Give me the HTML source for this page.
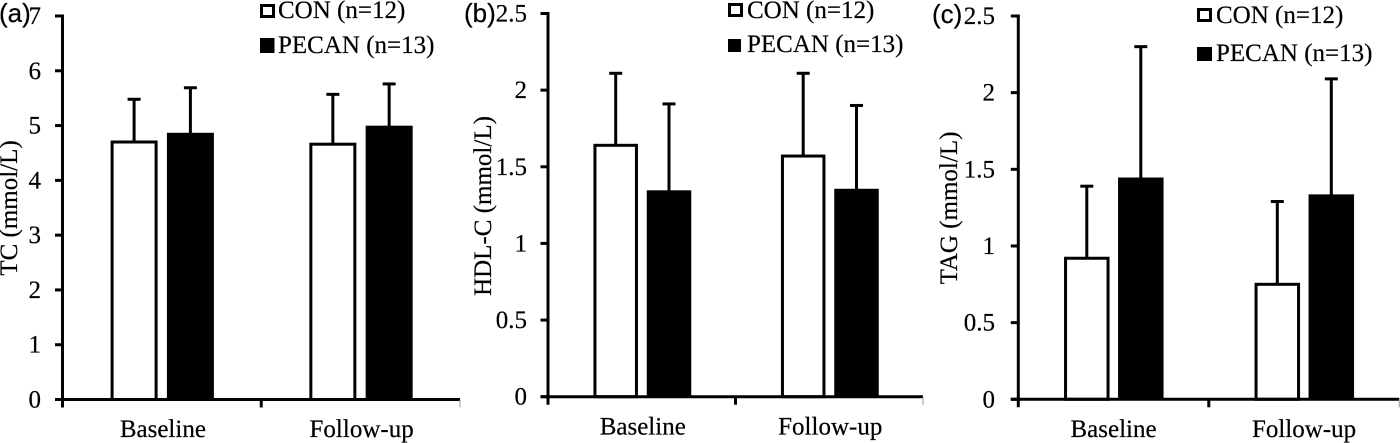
<!DOCTYPE html>
<html lang="en">
<head>
<meta charset="utf-8">
<title>TC, HDL-C and TAG at baseline and follow-up</title>
<style>
html,body{margin:0;padding:0;background:#fff;width:1400px;height:443px;overflow:hidden}
svg{display:block;filter:blur(.35px)}
text{font-family:"Liberation Serif",serif;font-size:25px;fill:#000;stroke:#000;stroke-width:.2px}
.panel-tag{font-family:"Liberation Sans",sans-serif;font-size:26px}
.tick{text-anchor:end}
.cat{text-anchor:middle}
.ytitle{text-anchor:middle}
</style>
</head>
<body>
<svg id="figure" width="1400" height="443" viewBox="0 0 1400 443" xmlns="http://www.w3.org/2000/svg">
  <rect width="1400" height="443" fill="#fff"/>

  <g id="panel-a">
    <text class="panel-tag" x="-1" y="22">(a)</text>
    <text class="ytitle" transform="translate(17 208) rotate(-90)">TC (mmol/L)</text>
    <rect x="261.5" y="5.5" width="12" height="11" fill="#fff" stroke="#000" stroke-width="3"/>
    <text x="278" y="18">CON (n=12)</text>
    <rect x="260" y="38" width="14.5" height="15" fill="#000"/>
    <text x="278" y="53">PECAN (n=13)</text>
  </g>

  <g id="panel-b">
    <text class="panel-tag" x="464" y="22">(b)</text>
    <text class="ytitle" transform="translate(491 206) rotate(-90)">HDL-C (mmol/L)</text>
    <rect x="729.5" y="4.5" width="12" height="11" fill="#fff" stroke="#000" stroke-width="3"/>
    <text x="747" y="18">CON (n=12)</text>
    <rect x="728" y="39" width="13" height="13" fill="#000"/>
    <text x="747" y="52">PECAN (n=13)</text>
  </g>

  <g id="panel-c">
    <text class="panel-tag" x="932" y="23">(c)</text>
    <text class="ytitle" transform="translate(957 208) rotate(-90)">TAG (mmol/L)</text>
    <rect x="1198.5" y="9.5" width="12" height="11" fill="#fff" stroke="#000" stroke-width="3"/>
    <text x="1216" y="23">CON (n=12)</text>
    <rect x="1197" y="47" width="15" height="14" fill="#000"/>
    <text x="1216" y="61">PECAN (n=13)</text>
  </g>
</svg>

<script>
// Shared categories
const categories = ['Baseline', 'Follow-up'];

// Panel (a) TC
const tcTickLabels = ['0', '1', '2', '3', '4', '5', '6', '7'];
const tcConMeans = [4.70, 4.66];
const tcPecanMeans = [4.85, 4.98];
const tcConUpper = [5.48, 5.57];
const tcPecanUpper = [5.69, 5.76];

// Panel (b) HDL-C
const hdlTickLabels = ['0', '0.5', '1', '1.5', '2', '2.5'];
const hdlConMeans = [1.64, 1.57];
const hdlPecanMeans = [1.34, 1.35];
const hdlConUpper = [2.11, 2.11];
const hdlPecanUpper = [1.91, 1.90];

// Panel (c) TAG
const tagTickLabels = ['0', '0.5', '1', '1.5', '2', '2.5'];
const tagConMeans = [0.92, 0.75];
const tagPecanMeans = [1.44, 1.33];
const tagConUpper = [1.39, 1.29];
const tagPecanUpper = [2.30, 2.09];

const SVG_NS = 'http://www.w3.org/2000/svg';

function make(parent, tag, attrs, name) {
  const el = document.createElementNS(SVG_NS, tag);
  for (const key in attrs) el.setAttribute(key, attrs[key]);
  
  
  parent.appendChild(el);
  return el;
}

function drawPanel(cfg) {
  const root = document.getElementById(cfg.id);
  const yMax = Number(cfg.ticks[cfg.ticks.length - 1]);
  const yScale = function (v) { return cfg.y0 - (v / yMax) * (cfg.y0 - cfg.yTop); };
  const band = (cfg.xRight - cfg.x0) / cfg.categories.length;
  const xBand = function (i) { return cfg.x0 + i * band; };

  function drawBar(value, upper, centre, filled, name) {
    const top = yScale(value);
    const capY = yScale(upper);
    make(root, 'line', { x1: centre, x2: centre, y1: top, y2: capY, stroke: '#000', 'stroke-width': 3 }, name + '-error-bar');
    make(root, 'line', { x1: centre - 6.5, x2: centre + 6.5, y1: capY, y2: capY, stroke: '#000', 'stroke-width': 3 }, name + '-error-cap');
    if (filled) {
      make(root, 'rect', { x: centre - cfg.barW / 2, y: top - 1, width: cfg.barW, height: cfg.y0 - top + 1, fill: '#000' }, name);
    } else {
      make(root, 'rect', { x: centre - cfg.barW / 2 + 1.5, y: top, width: cfg.barW - 3, height: cfg.y0 - top, fill: '#fff', stroke: '#000', 'stroke-width': 3 }, name);
    }
  }

  cfg.categories.forEach(function (cat, i) {
    const slug = cfg.key + '-' + cat.toLowerCase();
    drawBar(cfg.con[i], cfg.conUpper[i], xBand(i) + cfg.conOffset, false, slug + '-con-bar');
    drawBar(cfg.pecan[i], cfg.pecanUpper[i], xBand(i) + cfg.pecanOffset, true, slug + '-pecan-bar');
    const label = make(root, 'text', { class: 'cat', x: xBand(i) + band / 2 + cfg.catShift, y: cfg.catY }, slug + '-x-label');
    label.textContent = cat;
  });

  make(root, 'line', { x1: cfg.x0, x2: cfg.x0, y1: cfg.yTop - 1.5, y2: cfg.y0 + 8, stroke: '#000', 'stroke-width': 3 }, cfg.key + '-y-axis');
  make(root, 'line', { x1: cfg.x0 - 7.5, x2: cfg.xRight, y1: cfg.y0, y2: cfg.y0, stroke: '#000', 'stroke-width': 3 }, cfg.key + '-x-axis');

  cfg.ticks.forEach(function (t) {
    const y = yScale(Number(t));
    make(root, 'line', { x1: cfg.x0 - 7.5, x2: cfg.x0, y1: y, y2: y, stroke: '#000', 'stroke-width': 3 }, cfg.key + '-y-tick');
    const label = make(root, 'text', { class: 'tick', x: cfg.labelX, y: y + 8 }, cfg.key + '-y-tick-label');
    label.textContent = t;
  });

  for (let i = 1; i <= cfg.categories.length; i++) {
    const last = i === cfg.categories.length;
    make(root, 'line', { x1: xBand(i), x2: xBand(i), y1: cfg.y0, y2: cfg.y0 + 8, stroke: last ? '#999' : '#000', 'stroke-width': last ? 1 : 3 }, cfg.key + '-x-tick');
  }
}

drawPanel({
  id: 'panel-a', key: 'tc', categories: categories, ticks: tcTickLabels,
  con: tcConMeans, pecan: tcPecanMeans, conUpper: tcConUpper, pecanUpper: tcPecanUpper,
  x0: 62.5, xRight: 460, yTop: 16, y0: 399.5, barW: 47, conOffset: 71.6, pecanOffset: 127.9,
  labelX: 41, catY: 437, catShift: 1
});
drawPanel({
  id: 'panel-b', key: 'hdl', categories: categories, ticks: hdlTickLabels,
  con: hdlConMeans, pecan: hdlPecanMeans, conUpper: hdlConUpper, pecanUpper: hdlPecanUpper,
  x0: 548, xRight: 923, yTop: 13.5, y0: 396.7, barW: 44.5, conOffset: 67.7, pecanOffset: 121,
  labelX: 527, catY: 434.5, catShift: 1
});
drawPanel({
  id: 'panel-c', key: 'tag', categories: categories, ticks: tagTickLabels,
  con: tagConMeans, pecan: tagPecanMeans, conUpper: tagConUpper, pecanUpper: tagPecanUpper,
  x0: 1018.3, xRight: 1399.3, yTop: 16, y0: 399.3, barW: 45.5, conOffset: 68.5, pecanOffset: 122.5,
  labelX: 995, catY: 437, catShift: 0
});
</script>
</body>
</html>
